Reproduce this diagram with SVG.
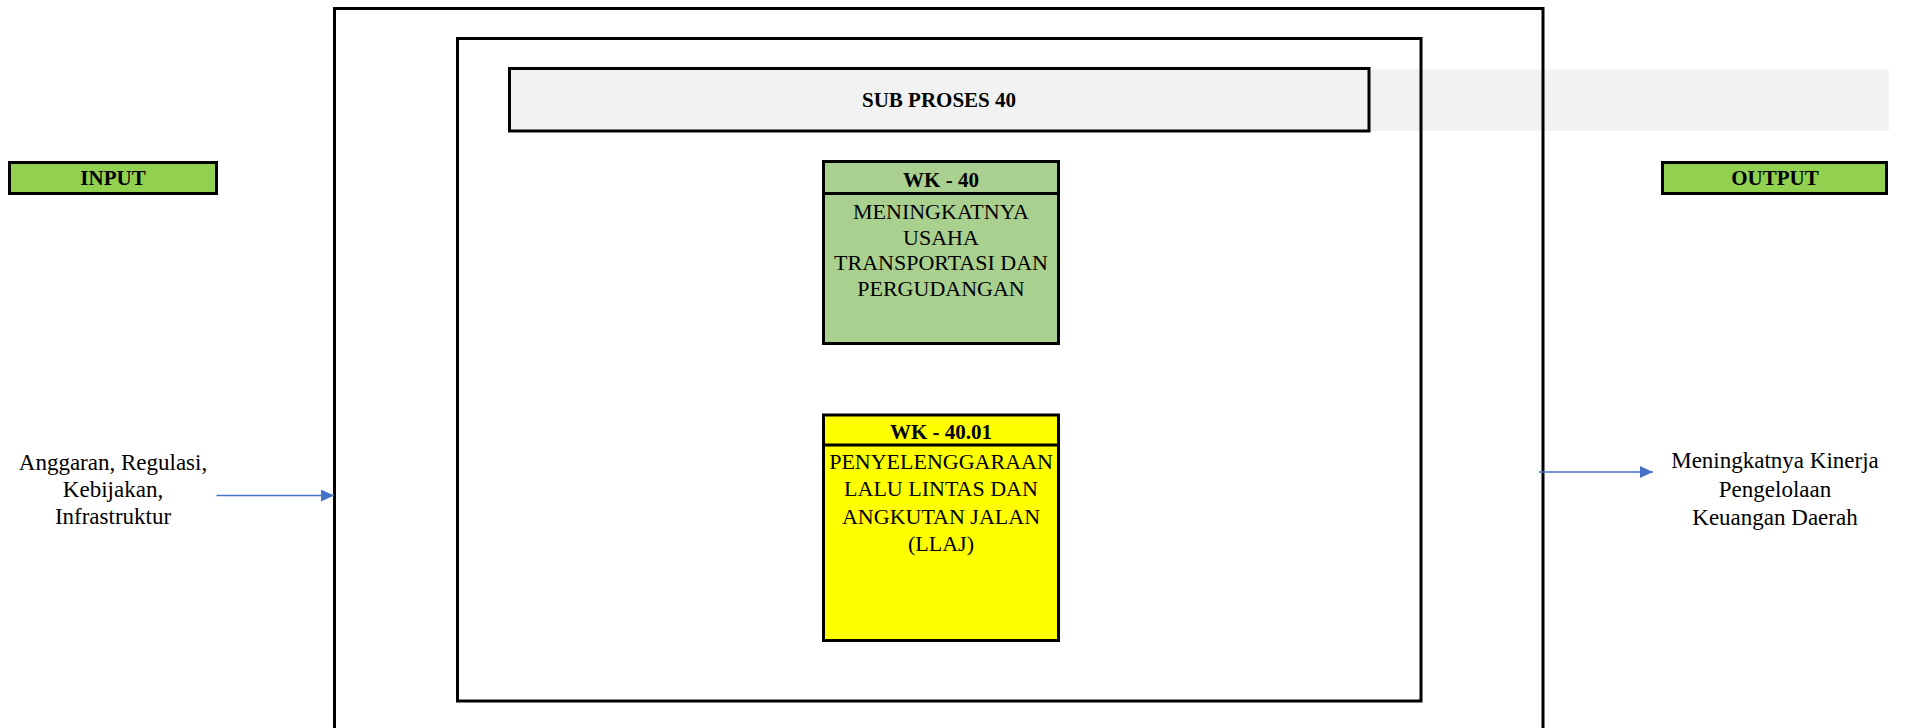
<svg xmlns="http://www.w3.org/2000/svg" width="1907" height="728" viewBox="0 0 1907 728">
<style>
.frame{fill:none;stroke:#000;stroke-width:3}
.box{stroke:#000;stroke-width:3}
.hdr{font-family:"Liberation Serif","DejaVu Serif",serif;font-weight:bold;font-size:21px;fill:#000;text-anchor:middle}
.txt{font-family:"Liberation Serif","DejaVu Serif",serif;font-size:22px;fill:#000;text-anchor:middle}
.lbl{font-family:"Liberation Serif","DejaVu Serif",serif;font-size:23px;fill:#000;text-anchor:middle}
.conn{stroke:#4472C4;stroke-width:1.3;fill:none}
</style>
<defs>
<marker id="arr2" markerWidth="13" markerHeight="12" refX="13" refY="6" orient="auto" markerUnits="userSpaceOnUse" viewBox="0 0 13 12">
<path d="M0,0 L13,6 L0,12 Z" fill="#4472C4"/>
</marker>
</defs>
<rect x="0" y="0" width="1907" height="728" fill="#fff"/>
<g id="band">
<rect x="1369" y="69.5" width="520" height="61.5" fill="#F2F2F2"/>
</g>
<g id="outer-frame">
<rect class="frame" x="334.5" y="8.5" width="1208.5" height="740"/>
</g>
<g id="inner-frame">
<rect class="frame" x="457.5" y="38.5" width="963.5" height="662.5"/>
</g>
<g id="sub-proses">
<rect class="box" x="509.5" y="68.5" width="859.5" height="62.5" fill="#F2F2F2"/>
<text class="hdr" x="939" y="107">SUB PROSES 40</text>
</g>
<g id="input">
<rect class="box" x="9.5" y="162.5" width="207" height="31" fill="#92D050"/>
<text class="hdr" x="113" y="185">INPUT</text>
</g>
<g id="output">
<rect class="box" x="1662.5" y="162.5" width="224" height="31" fill="#92D050"/>
<text class="hdr" x="1775" y="185">OUTPUT</text>
</g>
<g id="wk-40">
<rect class="box" x="823.5" y="161.5" width="235" height="182" fill="#A9D08E"/>
<line class="box" x1="823.5" y1="193.5" x2="1058.5" y2="193.5"/>
<text class="hdr" x="941" y="187">WK - 40</text>
<text class="txt" x="941" y="219">MENINGKATNYA</text>
<text class="txt" x="941" y="244.5">USAHA</text>
<text class="txt" x="941" y="270">TRANSPORTASI DAN</text>
<text class="txt" x="941" y="295.5">PERGUDANGAN</text>
</g>
<g id="wk-40-01">
<rect class="box" x="823.5" y="415" width="235" height="225.5" fill="#FFFF00"/>
<line class="box" x1="823.5" y1="445" x2="1058.5" y2="445"/>
<text class="hdr" x="941" y="438.5">WK - 40.01</text>
<text class="txt" x="941" y="468.5">PENYELENGGARAAN</text>
<text class="txt" x="941" y="496">LALU LINTAS DAN</text>
<text class="txt" x="941" y="523.5">ANGKUTAN JALAN</text>
<text class="txt" x="941" y="551">(LLAJ)</text>
</g>
<g id="input-text">
<text class="lbl" x="113" y="470">Anggaran, Regulasi,</text>
<text class="lbl" x="113" y="497">Kebijakan,</text>
<text class="lbl" x="113" y="524">Infrastruktur</text>
</g>
<g id="output-text">
<text class="lbl" x="1775" y="468">Meningkatnya Kinerja</text>
<text class="lbl" x="1775" y="496.5">Pengelolaan</text>
<text class="lbl" x="1775" y="525">Keuangan Daerah</text>
</g>
<g id="connectors">
<line class="conn" x1="216.5" y1="495.5" x2="334" y2="495.5" marker-end="url(#arr2)"/>
<line class="conn" x1="1539" y1="472" x2="1653" y2="472" marker-end="url(#arr2)"/>
</g>
</svg>
